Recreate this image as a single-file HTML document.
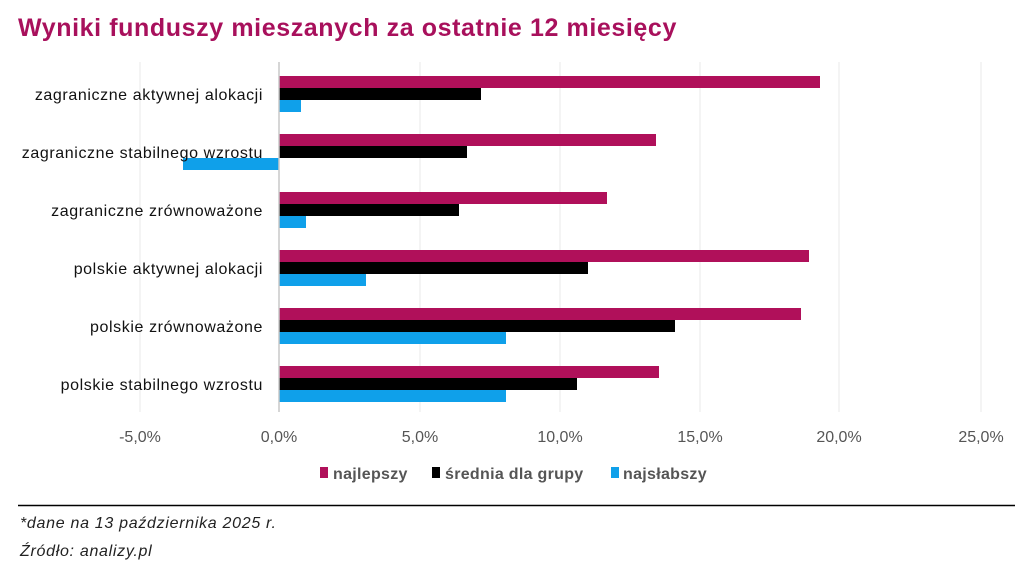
<!DOCTYPE html>
<html><head><meta charset="utf-8"><style>
body{margin:0;width:1015px;height:576px;background:#fff;overflow:hidden;font-family:"Liberation Sans",sans-serif}
</style></head><body>
<svg width="1015" height="576" xmlns="http://www.w3.org/2000/svg" font-family="Liberation Sans, sans-serif">
<text x="18" y="36" font-size="25" font-weight="bold" fill="#a8105c" letter-spacing="0.6">Wyniki funduszy mieszanych za ostatnie 12 miesięcy</text>
<g stroke="#eaeaea" stroke-width="1">
<line x1="140" y1="62" x2="140" y2="412"/><line x1="420" y1="62" x2="420" y2="412"/><line x1="560" y1="62" x2="560" y2="412"/><line x1="700" y1="62" x2="700" y2="412"/><line x1="839" y1="62" x2="839" y2="412"/><line x1="981" y1="62" x2="981" y2="412"/>
</g>
<g>
<rect x="279" y="76" width="541" height="12" fill="#b0105a"/><rect x="279" y="88" width="202" height="12" fill="#000"/><rect x="279" y="100" width="22" height="12" fill="#0fa0ea"/>
<rect x="279" y="134" width="377" height="12" fill="#b0105a"/><rect x="279" y="146" width="188" height="12" fill="#000"/><rect x="183" y="158" width="96" height="12" fill="#0fa0ea"/>
<rect x="279" y="192" width="328" height="12" fill="#b0105a"/><rect x="279" y="204" width="180" height="12" fill="#000"/><rect x="279" y="216" width="27" height="12" fill="#0fa0ea"/>
<rect x="279" y="250" width="530" height="12" fill="#b0105a"/><rect x="279" y="262" width="309" height="12" fill="#000"/><rect x="279" y="274" width="87" height="12" fill="#0fa0ea"/>
<rect x="279" y="308" width="522" height="12" fill="#b0105a"/><rect x="279" y="320" width="396" height="12" fill="#000"/><rect x="279" y="332" width="227" height="12" fill="#0fa0ea"/>
<rect x="279" y="366" width="380" height="12" fill="#b0105a"/><rect x="279" y="378" width="298" height="12" fill="#000"/><rect x="279" y="390" width="227" height="12" fill="#0fa0ea"/>
</g>
<line x1="279" y1="62" x2="279" y2="412" stroke="#c8c8c8" stroke-width="1.5"/>
<g font-size="16" fill="#111" text-anchor="end" letter-spacing="0.6">
<text x="263" y="100">zagraniczne aktywnej alokacji</text>
<text x="263" y="158">zagraniczne stabilnego wzrostu</text>
<text x="263" y="216">zagraniczne zrównoważone</text>
<text x="263" y="274">polskie aktywnej alokacji</text>
<text x="263" y="332">polskie zrównoważone</text>
<text x="263" y="390">polskie stabilnego wzrostu</text>
</g>
<g font-size="16" fill="#555" text-anchor="middle">
<text x="140" y="442">-5,0%</text><text x="279" y="442">0,0%</text><text x="420" y="442">5,0%</text><text x="560" y="442">10,0%</text><text x="700" y="442">15,0%</text><text x="839" y="442">20,0%</text><text x="981" y="442">25,0%</text>
</g>
<g font-size="16" fill="#555" font-weight="bold" letter-spacing="0.3">
<rect x="320" y="467" width="8" height="11" fill="#b0105a"/><text x="333" y="479">najlepszy</text>
<rect x="432" y="467" width="8" height="11" fill="#000"/><text x="445" y="479">średnia dla grupy</text>
<rect x="611" y="467" width="8" height="11" fill="#0fa0ea"/><text x="623" y="479">najsłabszy</text>
</g>
<line x1="18" y1="505.5" x2="1015" y2="505.5" stroke="#000" stroke-width="1.5"/>
<g font-size="16" fill="#222" font-style="italic" letter-spacing="0.7">
<text x="20" y="528">*dane na 13 października 2025 r.</text>
<text x="20" y="556">Źródło: analizy.pl</text>
</g>
</svg>
</body></html>
